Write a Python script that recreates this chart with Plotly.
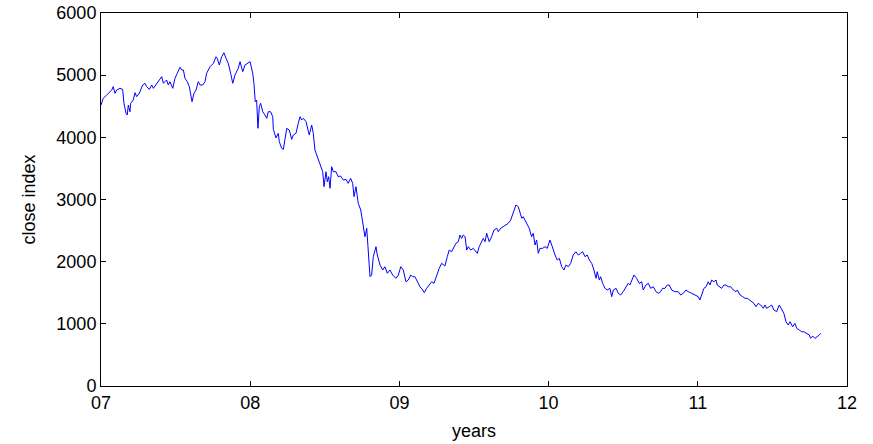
import plotly.graph_objects as go

years = [
    7.000, 7.015, 7.038, 7.056, 7.072, 7.082, 7.094, 7.105, 7.127, 7.145,
    7.154, 7.168, 7.176, 7.183, 7.194, 7.199, 7.216, 7.228, 7.239, 7.257,
    7.279, 7.295, 7.306, 7.324, 7.340, 7.351, 7.373, 7.391, 7.407, 7.418,
    7.440, 7.451, 7.462, 7.481, 7.496, 7.511, 7.529, 7.541, 7.552, 7.563,
    7.578, 7.592, 7.601, 7.610, 7.623, 7.637, 7.652, 7.664, 7.682, 7.697,
    7.708, 7.731, 7.753, 7.771, 7.779, 7.793, 7.809, 7.824, 7.838, 7.853,
    7.869, 7.883, 7.898, 7.909, 7.920, 7.932, 7.950, 7.965, 7.981, 7.999,
    8.017, 8.025, 8.034, 8.043, 8.052, 8.061, 8.070, 8.084, 8.099, 8.111,
    8.121, 8.137, 8.151, 8.155, 8.173, 8.188, 8.195, 8.211, 8.222, 8.233,
    8.245, 8.262, 8.278, 8.289, 8.307, 8.322, 8.334, 8.345, 8.356, 8.374,
    8.383, 8.396, 8.412, 8.423, 8.434, 8.450, 8.463, 8.472, 8.486, 8.495,
    8.501, 8.508, 8.517, 8.526, 8.535, 8.546, 8.557, 8.575, 8.590, 8.606,
    8.624, 8.642, 8.657, 8.673, 8.687, 8.696, 8.709, 8.724, 8.741, 8.754,
    8.769, 8.781, 8.791, 8.803, 8.814, 8.825, 8.843, 8.852, 8.870, 8.888,
    8.903, 8.919, 8.937, 8.955, 8.977, 8.993, 9.009, 9.026, 9.044, 9.060,
    9.076, 9.089, 9.104, 9.120, 9.138, 9.156, 9.167, 9.183, 9.200, 9.216,
    9.232, 9.250, 9.267, 9.283, 9.294, 9.305, 9.321, 9.334, 9.350, 9.361,
    9.379, 9.395, 9.406, 9.417, 9.428, 9.440, 9.451, 9.462, 9.478, 9.495,
    9.513, 9.522, 9.535, 9.551, 9.562, 9.574, 9.585, 9.602, 9.618, 9.634,
    9.652, 9.663, 9.679, 9.696, 9.714, 9.730, 9.746, 9.759, 9.768, 9.781,
    9.797, 9.808, 9.820, 9.830, 9.842, 9.857, 9.870, 9.886, 9.897, 9.909,
    9.920, 9.931, 9.942, 9.960, 9.976, 9.991, 10.009, 10.021, 10.031, 10.043,
    10.058, 10.072, 10.088, 10.103, 10.116, 10.132, 10.148, 10.165, 10.183, 10.199,
    10.215, 10.228, 10.244, 10.259, 10.273, 10.289, 10.304, 10.318, 10.326, 10.340,
    10.349, 10.362, 10.378, 10.393, 10.411, 10.423, 10.434, 10.452, 10.467, 10.483,
    10.500, 10.519, 10.534, 10.545, 10.557, 10.572, 10.590, 10.608, 10.624, 10.634,
    10.653, 10.668, 10.684, 10.702, 10.720, 10.735, 10.751, 10.764, 10.780, 10.795,
    10.809, 10.825, 10.847, 10.869, 10.885, 10.903, 10.921, 10.936, 10.959, 10.981,
    11.003, 11.014, 11.026, 11.041, 11.055, 11.070, 11.082, 11.093, 11.108, 11.122,
    11.130, 11.144, 11.160, 11.175, 11.189, 11.204, 11.220, 11.238, 11.256, 11.265,
    11.283, 11.301, 11.316, 11.332, 11.345, 11.361, 11.376, 11.390, 11.405, 11.421,
    11.439, 11.450, 11.461, 11.479, 11.495, 11.510, 11.529, 11.546, 11.562, 11.577,
    11.591, 11.606, 11.618, 11.636, 11.651, 11.663, 11.680, 11.696, 11.711, 11.730,
    11.747, 11.756, 11.770, 11.785, 11.801, 11.814, 11.823,
]

close_index = [
    4520, 4627, 4680, 4718, 4761, 4815, 4708, 4761, 4788, 4772,
    4547, 4386, 4359, 4520, 4412, 4547, 4600, 4718, 4654, 4708,
    4842, 4869, 4815, 4772, 4842, 4788, 4869, 4922, 4976, 4869,
    4922, 4842, 4895, 4788, 4949, 5030, 5126, 5083, 5083, 4949,
    4895, 4815, 4680, 4573, 4708, 4761, 4895, 4842, 4842, 4895,
    5030, 5137, 5190, 5297, 5270, 5163, 5297, 5361, 5270, 5190,
    5030, 4869, 5003, 5056, 5110, 5217, 5056, 5163, 5190, 5217,
    5030, 4869, 4573, 4600, 4145, 4493, 4547, 4412, 4359, 4306,
    4412, 4412, 4332, 4130, 3990, 4064, 3930, 3823, 3806, 3957,
    4145, 4118, 3968, 4037, 4064, 4225, 4332, 4279, 4306, 4252,
    4171, 4037, 4198, 4064, 3796, 3688, 3608, 3527, 3447, 3206,
    3367, 3447, 3286, 3367, 3180, 3527, 3447, 3447, 3367, 3378,
    3313, 3324, 3260, 3340, 3260, 3045, 3206, 2939, 2831, 2617,
    2401, 2537, 2134, 1758, 1785, 2080, 2241, 2107, 1946, 1866,
    1919, 1813, 1866, 1785, 1732, 1785, 1919, 1866, 1677, 1705,
    1785, 1758, 1758, 1677, 1597, 1544, 1501, 1571, 1624, 1677,
    1652, 1785, 1893, 1973, 1946, 1930, 2080, 2187, 2160, 2214,
    2295, 2321, 2429, 2375, 2429, 2401, 2187, 2241, 2187, 2214,
    2160, 2134, 2241, 2321, 2375, 2321, 2456, 2321, 2401, 2509,
    2537, 2482, 2537, 2563, 2590, 2617, 2670, 2751, 2831, 2911,
    2884, 2804, 2697, 2724, 2670, 2617, 2537, 2401, 2456, 2268,
    2348, 2134, 2214, 2214, 2241, 2214, 2348, 2268, 2187, 2107,
    2027, 2053, 1919, 1866, 1946, 1919, 1973, 2107, 2160, 2107,
    2134, 2160, 2080, 2107, 2027, 1973, 1866, 1732, 1839, 1705,
    1758, 1652, 1571, 1544, 1571, 1437, 1544, 1571, 1491, 1464,
    1517, 1597, 1652, 1624, 1705, 1785, 1732, 1650, 1677, 1544,
    1624, 1652, 1571, 1597, 1517, 1491, 1517, 1571, 1571, 1624,
    1624, 1544, 1517, 1517, 1464, 1491, 1544, 1517, 1491, 1464,
    1437, 1383, 1464, 1571, 1597, 1677, 1624, 1705, 1677, 1705,
    1624, 1597, 1571, 1624, 1624, 1597, 1597, 1544, 1517, 1544,
    1464, 1437, 1410, 1410, 1383, 1356, 1330, 1276, 1330, 1303,
    1250, 1303, 1250, 1276, 1303, 1222, 1196, 1303, 1222, 1169,
    1034, 981, 1034, 954, 1008, 927, 900, 873, 873, 846,
    820, 766, 804, 766, 793, 820, 846,
]

x_tickvals = [7, 8, 9, 10, 11, 12]
x_ticktext = ["07", "08", "09", "10", "11", "12"]
y_tickvals = [0, 1000, 2000, 3000, 4000, 5000, 6000]

fig = go.Figure()
fig.add_trace(go.Scatter(
    x=years, y=close_index, mode="lines",
    line=dict(color="#0000ff", width=1),
    showlegend=False,
))

axis_common = dict(
    showline=True, linecolor="black", linewidth=1, mirror="ticks",
    ticks="inside", ticklen=5, tickcolor="black", tickwidth=1,
    showgrid=False, zeroline=False, automargin=False,
    tickfont=dict(family="Liberation Sans, Arial", size=18, color="black"),
)

fig.update_layout(
    width=873, height=444,
    margin=dict(l=101, r=26, t=13, b=58),
    paper_bgcolor="white", plot_bgcolor="white",
    font=dict(family="Liberation Sans, Arial", size=18, color="black"),
    xaxis=dict(
        range=[7, 12], tickvals=x_tickvals, ticktext=x_ticktext,
        title=dict(text="years", standoff=12,
                   font=dict(family="Liberation Sans, Arial", size=18)),
        **axis_common,
    ),
    yaxis=dict(
        range=[0, 6000], tickvals=y_tickvals,
        title=dict(text="close index", standoff=16,
                   font=dict(family="Liberation Sans, Arial", size=18)),
        **axis_common,
    ),
)

fig.write_html(
    "out.html",
    config={"displayModeBar": False},
    post_script="document.body.style.margin='0';document.body.style.overflow='hidden';",
)
